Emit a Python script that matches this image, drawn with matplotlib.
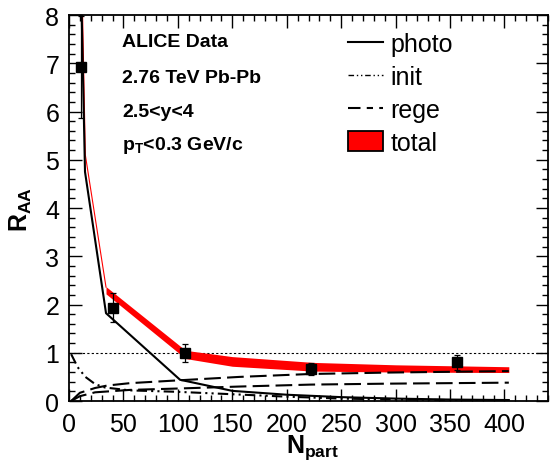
import matplotlib
matplotlib.use("Agg")
import matplotlib.pyplot as plt
import numpy as np
from matplotlib.lines import Line2D
from matplotlib.patches import Patch
from matplotlib.ticker import MultipleLocator

# ALICE data points
npart_data = [11.0, 40.8, 106.7, 222.5, 356.5]
raa_data = [6.92, 1.93, 0.99, 0.66, 0.80]
raa_err = [1.06, 0.30, 0.19, 0.13, 0.15]

# photoproduction (solid)
npart_photo = [11.4, 14.7, 34, 102, 150, 200, 250, 300, 350, 404]
raa_photo = [8.3, 4.75, 1.82, 0.44, 0.21, 0.13, 0.08, 0.05, 0.03, 0.02]

# initial production (dash-dot-dot)
npart_init = [2, 8, 15, 24, 33, 56, 100, 150, 200, 250, 300, 350, 404]
raa_init = [0.97, 0.70, 0.50, 0.35, 0.28, 0.22, 0.19, 0.14, 0.09, 0.05, 0.03, 0.02, 0.01]

# regeneration (two dashed curves)
npart_rege_hi = [2, 10, 24, 35, 56, 102, 157, 222, 295, 404]
raa_rege_hi = [0.0, 0.17, 0.27, 0.32, 0.37, 0.43, 0.50, 0.56, 0.59, 0.62]
npart_rege_lo = [2, 10, 24, 56, 102, 157, 222, 295, 404]
raa_rege_lo = [0.0, 0.10, 0.18, 0.23, 0.26, 0.30, 0.34, 0.36, 0.38]

# total (thin line at low Npart, band afterwards)
npart_tot_line = [12.3, 15.0, 34]
raa_tot_line = [8.2, 5.1, 2.36]
npart_tot = [34, 107, 150, 224, 300, 404]
raa_tot_hi = [2.37, 1.05, 0.92, 0.80, 0.75, 0.71]
raa_tot_lo = [2.22, 0.88, 0.72, 0.62, 0.60, 0.59]

plt.rcParams.update({
    "font.family": "Liberation Sans",
    "mathtext.fontset": "custom",
    "mathtext.rm": "Liberation Sans",
    "mathtext.bf": "Liberation Sans:bold",
    "mathtext.it": "Liberation Sans:italic",
})

fig = plt.figure(figsize=(5.5, 4.64), dpi=100)
ax = fig.add_axes([69 / 550, 1 - 402 / 464, 479 / 550, 386 / 464])

lw = 1.5
init_dash = (5, 2, 1, 2, 1, 2)
rege_dash = (8, 3)

ax.fill_between(npart_tot, raa_tot_lo, raa_tot_hi, color="red", lw=0, zorder=2)
ax.plot(npart_tot_line, raa_tot_line, color="red", lw=0.8, zorder=2)
ax.plot(npart_photo, raa_photo, color="black", lw=lw, zorder=3)
ax.plot(npart_init, raa_init, color="black", lw=lw, dashes=init_dash, zorder=3)
ax.plot(npart_rege_hi, raa_rege_hi, color="black", lw=lw, dashes=rege_dash, zorder=3)
ax.plot(npart_rege_lo, raa_rege_lo, color="black", lw=lw, dashes=rege_dash, zorder=3)
ax.axhline(1.0, color="black", lw=0.8, ls=(0, (2, 2)), zorder=1)
ax.errorbar(npart_data, raa_data, yerr=raa_err, fmt="s", color="black", ms=6.5,
            elinewidth=0.9, capsize=2.5, capthick=0.9, zorder=4)

ax.set_xlim(0, 440)
ax.set_ylim(0, 8)
ax.xaxis.set_major_locator(MultipleLocator(50))
ax.xaxis.set_minor_locator(MultipleLocator(10))
ax.yaxis.set_major_locator(MultipleLocator(1))
ax.yaxis.set_minor_locator(MultipleLocator(0.2))
ax.set_xticks([0, 50, 100, 150, 200, 250, 300, 350, 400])
ax.tick_params(which="both", direction="in", top=True, right=True, labelsize=18, width=1)
ax.tick_params(which="major", length=9)
ax.tick_params(which="minor", length=4.5)
ax.tick_params(axis="x", pad=8)
ax.tick_params(axis="y", pad=7)
for sp in ax.spines.values():
    sp.set_linewidth(1.3)

ax.set_xlabel(r"N$_{\mathbf{part}}$", fontsize=18, fontweight="bold", va="center")
ax.set_ylabel(r"R$_{\mathbf{AA}}$", fontsize=18, fontweight="bold", va="center")
ax.xaxis.set_label_coords(0.509, -0.118)
ax.yaxis.set_label_coords(-0.1, 0.5)

tx = (122 - 69) / 479
for txt, ypix in [("ALICE Data", 42), ("2.76 TeV Pb-Pb", 78), ("2.5<y<4", 112),
                  (r"p$_{\mathbf{T}}$<0.3 GeV/c", 145)]:
    ax.text(tx, (402 - ypix) / 386, txt, transform=ax.transAxes, fontsize=14,
            fontweight="bold", va="center", ha="left")

handles = [
    Line2D([], [], color="black", lw=lw),
    Line2D([], [], color="black", lw=1.0, dashes=(4, 2, 1, 2, 1, 2)),
    Line2D([], [], color="black", lw=lw, dashes=(6, 3, 3, 3)),
    Patch(facecolor="red", edgecolor="black", lw=1.3),
]
ax.legend(handles, ["photo", "init", "rege", "total"], loc="upper left",
          bbox_to_anchor=(348 / 550, 1 - 33 / 464), bbox_transform=fig.transFigure,
          frameon=False, fontsize=18, handlelength=1.4, handletextpad=0.3,
          labelspacing=0.36, borderpad=0, borderaxespad=0, handleheight=0.85)

fig.savefig("out.png", dpi=100)
